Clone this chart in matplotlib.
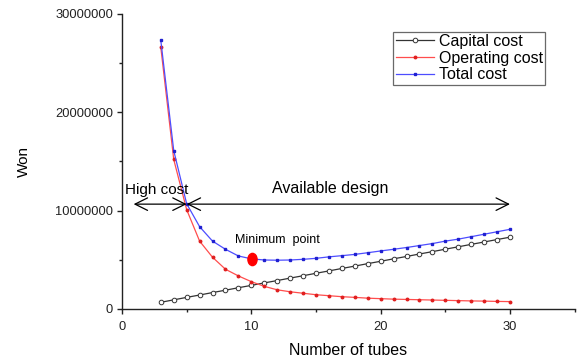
import numpy as np
import matplotlib
matplotlib.use('Agg')
import matplotlib.pyplot as plt
from matplotlib.ticker import MultipleLocator, FuncFormatter
from matplotlib.path import Path
from matplotlib.transforms import Affine2D

plt.rcParams['font.family'] = ['Liberation Sans', 'DejaVu Sans']

# number of tubes
tubes = list(range(3, 31))

# costs in million won
capital = [0.68, 0.93, 1.18, 1.42, 1.67, 1.91, 2.16, 2.40, 2.65, 2.89,
           3.14, 3.38, 3.63, 3.87, 4.12, 4.36, 4.61, 4.85, 5.10, 5.34,
           5.59, 5.83, 6.08, 6.32, 6.57, 6.81, 7.06, 7.30]
operating = [26.6, 15.2, 10.1, 6.9, 5.26, 4.04, 3.36, 2.78, 2.30, 1.95,
             1.75, 1.60, 1.45, 1.35, 1.25, 1.18, 1.10, 1.05, 1.00, 0.97,
             0.94, 0.91, 0.88, 0.85, 0.82, 0.80, 0.77, 0.75]
total = [27.3, 16.1, 10.7, 8.37, 6.90, 6.07, 5.39, 5.10, 4.98, 4.96,
         4.98, 5.05, 5.15, 5.30, 5.42, 5.55, 5.72, 5.90, 6.07, 6.25,
         6.45, 6.65, 6.90, 7.10, 7.35, 7.60, 7.85, 8.10]

min_point = (10.05, 5.05)
arrow_y = 10.66
high_cost_span = (0.9, 5.0)
design_span = (5.0, 30.0)

scale = 1e6

fig = plt.figure(figsize=(5.81, 3.57), dpi=100)
ax = fig.add_axes([0.21, 0.1345, 0.779, 0.8265])

ax.plot(tubes, np.array(capital) * scale, color='#333333', lw=0.9,
        marker='o', ms=3.3, mfc='white', mec='#333333', mew=0.7,
        label='Capital cost')
ax.plot(tubes, np.array(operating) * scale, color='#ff4d4d', lw=0.9,
        marker='o', ms=1.8, mfc='#e02020', mec='#e02020',
        label='Operating cost')
ax.plot(tubes, np.array(total) * scale, color='#4d4dff', lw=0.9,
        marker='s', ms=1.8, mfc='#2020d0', mec='#2020d0',
        label='Total cost')

# minimum point marker, a slightly tall ellipse
oval = Path.unit_circle().transformed(Affine2D().scale(0.75, 1.0))
ax.plot([min_point[0]], [min_point[1] * scale], marker=oval, ms=8.8,
        color='red', ls='none')

# region arrows
arrow_kw = dict(arrowstyle='<->,head_length=0.9,head_width=0.45',
                color='black', lw=0.9, shrinkA=0, shrinkB=0)
ax.annotate('', xy=(high_cost_span[0], arrow_y * scale),
            xytext=(high_cost_span[1], arrow_y * scale),
            arrowprops=arrow_kw)
ax.annotate('', xy=(design_span[0], arrow_y * scale),
            xytext=(design_span[1], arrow_y * scale),
            arrowprops=arrow_kw)

ax.text(2.7, 12.1 * scale, 'High cost', fontsize=11, ha='center', va='center')
ax.text(16.1, 12.3 * scale, 'Available design', fontsize=11.5,
        ha='center', va='center')
ax.text(12.0, 7.0 * scale, 'Minimum  point', fontsize=9,
        ha='center', va='center')

ax.set_xlim(0, 35)
ax.set_ylim(0, 30 * scale)
ax.xaxis.set_major_locator(MultipleLocator(10))
ax.xaxis.set_minor_locator(MultipleLocator(5))
ax.yaxis.set_major_locator(MultipleLocator(10 * scale))
ax.yaxis.set_minor_locator(MultipleLocator(5 * scale))
ax.yaxis.set_major_formatter(FuncFormatter(lambda v, p: '%d' % v))

for side in ['top', 'right']:
    ax.spines[side].set_visible(False)
for side in ['left', 'bottom']:
    ax.spines[side].set_linewidth(1.0)
    ax.spines[side].set_color('#222222')

ax.tick_params(which='major', direction='out', length=3.5, width=1.0,
               labelsize=9.3, colors='#222222', pad=3)
ax.tick_params(axis='x', which='major', pad=5)
ax.tick_params(which='minor', direction='out', length=2.2, width=1.0,
               colors='#222222')

ax.set_xlabel('Number of tubes', fontsize=11.5, labelpad=7)
ax.set_ylabel('Won', fontsize=11, labelpad=17)

leg = ax.legend(loc='upper right', bbox_to_anchor=(0.935, 0.94),
                fontsize=11.5, frameon=True, fancybox=False,
                borderpad=0.15, labelspacing=0.1, handlelength=2.4,
                handletextpad=0.3, borderaxespad=0)
leg.get_frame().set_edgecolor('#444444')
leg.get_frame().set_linewidth(0.9)

fig.savefig('out.png', dpi=100)
